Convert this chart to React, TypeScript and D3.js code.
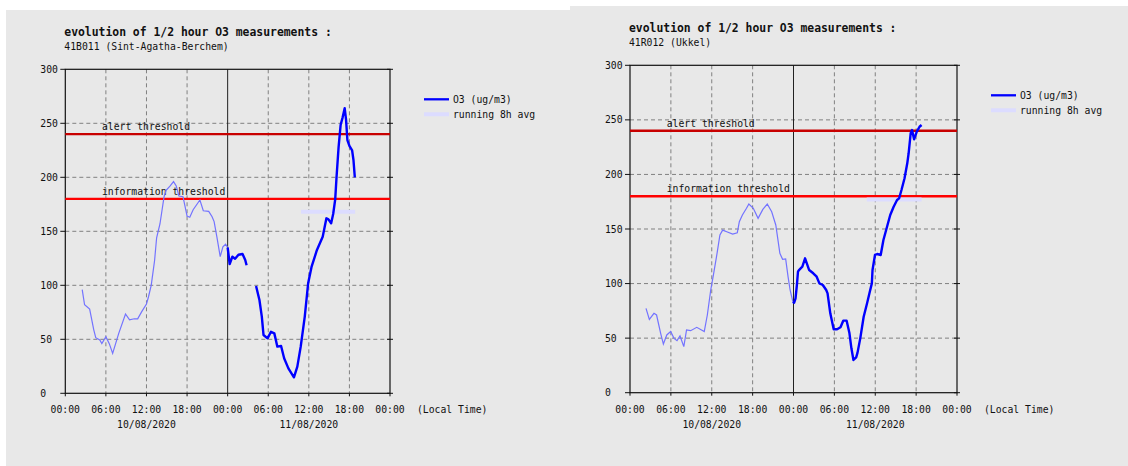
import React from "react";
import * as d3 from "d3";

// ---- data (hours since 10/08/2020 00:00, O3 ug/m3) ----
const berchemSeries: [number, number | null][] = [
  [2.5, 96], [2.85, 82], [3.6, 78], [4.2, 59], [4.5, 51.5], [5.1, 49.4], [5.4, 46], [6.0, 52.4],
  [6.5, 46], [7.0, 37], [7.9, 55.5], [8.9, 73.4], [9.5, 68], [10.2, 69], [10.7, 69], [11.3, 75.6],
  [12.0, 82.7], [12.3, 89.4], [12.7, 100], [13.2, 123], [13.5, 144], [14.0, 157], [14.6, 182],
  [14.9, 188], [15.5, 192], [16.0, 196], [16.4, 192], [16.8, 182.7], [17.4, 182], [18.0, 164],
  [18.4, 163], [18.9, 170], [19.9, 179], [20.4, 169], [21.2, 168.5], [21.7, 163.5], [22.0, 159],
  [22.4, 145], [22.9, 126.5], [23.3, 135.7], [23.7, 138], [24.0, 135], [24.3, 119.7], [24.7, 126.5],
  [25.1, 124.6], [25.6, 128.3], [26.2, 129], [26.6, 123.4], [26.8, 118.5], [27.5, null],
  [28.2, 99.4], [28.7, 86.4], [29.05, 71], [29.3, 54], [29.9, 50.9], [30.4, 57], [30.9, 55.5],
  [31.35, 43.2], [31.9, 43.8], [32.35, 32.4], [32.98, 23.1], [33.8, 14.8], [34.3, 24.7],
  [34.8, 43.2], [35.4, 71], [35.9, 101.9], [36.4, 117], [37.2, 132.7], [38.05, 145], [38.6, 162],
  [38.9, 161], [39.3, 157.4], [39.6, 166], [39.9, 179.6], [40.1, 200.5], [40.4, 228],
  [40.7, 248.4], [41.0, 255.5], [41.3, 264], [41.5, 253.7], [41.7, 234.5], [42.0, 229],
  [42.4, 225], [42.6, 216], [42.8, 200],
];
const berchemAvg: [number, number][] = [[34.85, 168], [42.85, 168]];

const ukkelSeries: [number, number | null][] = [
  [2.35, 77.3], [2.84, 67.2], [3.52, 72.7], [3.9, 71.2], [4.5, 54.4], [4.9, 44.6], [5.4, 52.9],
  [5.97, 56], [6.46, 49.8], [6.9, 47.7], [7.34, 52], [7.9, 42.2], [8.3, 57.5], [8.9, 56.8],
  [9.8, 59.9], [10.9, 56], [11.35, 71.2], [11.85, 94.1], [12.2, 106.3], [12.7, 124.6],
  [13.2, 144.5], [13.6, 149], [14.2, 147.5], [15.07, 145.4], [15.75, 146.6], [16.05, 156.7],
  [16.5, 162.8], [17.1, 169], [17.45, 172.9], [18.1, 169], [18.8, 159.8], [19.5, 168],
  [20.15, 172.9], [20.8, 165.8], [21.4, 153.7], [22.0, 127.7], [22.4, 122.2], [22.85, 122.5],
  [23.2, 106.3], [23.5, 94.1], [23.9, 83.4], [24.1, 82.5], [24.3, 86.5], [24.5, 98.7],
  [24.66, 110.9], [24.8, 112.4], [25.3, 115.5], [25.7, 123.1], [26.3, 112.4], [26.9, 109.4],
  [27.4, 106.3], [27.8, 100.2], [28.3, 98.7], [28.8, 94.1], [29.0, 91], [29.4, 72.7],
  [29.9, 58.1], [30.4, 58.1], [30.9, 59.9], [31.3, 66], [31.8, 66], [32.2, 55], [32.5, 40.7],
  [32.8, 30], [33.2, 32.4], [33.4, 36.7], [33.8, 49.8], [34.3, 69.6], [34.8, 81.9],
  [35.2, 92.5], [35.5, 100.2], [35.6, 112.4], [35.96, 126.2], [36.3, 127.1], [36.8, 126.2],
  [37.2, 139.9], [37.8, 153.7], [38.2, 162.8], [38.7, 170.4], [39.2, 176.6], [39.5, 178.1],
  [39.85, 185.7], [40.3, 196.5], [40.7, 210.2], [40.9, 219.4], [41.2, 237.7], [41.4, 240.7],
  [41.7, 232.2], [42.1, 239.2], [42.5, 243.7], [42.8, 245.3],
];
const ukkelAvg: [number, number][] = [[34.75, 177], [42.8, 177]];

const xTickHours = [0, 6, 12, 18, 24, 30, 36, 42, 48];
const xTickLabels = ["00:00", "06:00", "12:00", "18:00", "00:00", "06:00", "12:00", "18:00", "00:00"];
const dateLabels = ["10/08/2020", "11/08/2020"];
const dateHours = [12, 36];
const yTicks = [0, 50, 100, 150, 200, 250, 300];
const thresholds = [
  { value: 240, label: "alert threshold", color: "#c80000" },
  { value: 180, label: "information threshold", color: "#ff0000" },
];
const legendLabels = ["O3 (ug/m3)", "running 8h avg"];
const chartTitle = "evolution of 1/2 hour O3 measurements :";

const MONO = "'DejaVu Sans Mono', 'Liberation Mono', monospace";
const FS = 9.75;

type ChartProps = {
  x0: number; x1: number; yTop: number; yBottom: number;
  subtitle: string;
  series: [number, number | null][];
  avg: [number, number][];
};

function Chart({ x0, x1, yTop, yBottom, subtitle, series, avg }: ChartProps) {
  const x = d3.scaleLinear().domain([0, 48]).range([x0, x1]);
  const y = d3.scaleLinear().domain([0, 300]).range([yBottom, yTop]);
  const line = d3.line<[number, number | null]>()
    .defined((d) => d[1] !== null)
    .x((d) => x(d[0]))
    .y((d) => y(d[1] as number));
  const lastThin = series.findIndex((d) => d[0] > 24) - 1;
  const thin = series.slice(0, lastThin + 1);
  const thick = series.slice(lastThin);
  const avgLine = d3.line<[number, number]>().x((d) => x(d[0])).y((d) => y(d[1]));
  const lx = x1 + 34;
  const ly = yTop + 30;
  return (
    <g fontFamily={MONO} fontSize={FS} fill="#111">
      <text x={x0 - 1} y={yTop - 33} fontSize={11.4} fontWeight="bold">{chartTitle}</text>
      <text x={x0 - 1} y={yTop - 19.5}>{subtitle}</text>
      {/* grid */}
      {yTicks.filter((v) => v > 0 && v < 300).map((v) => (
        <line key={"gy" + v} x1={x0} x2={x1} y1={y(v)} y2={y(v)} stroke="#808080" strokeDasharray="4,3" />
      ))}
      {xTickHours.filter((h) => h % 24 !== 0).map((h) => (
        <line key={"gx" + h} x1={x(h)} x2={x(h)} y1={yTop} y2={yBottom} stroke="#808080" strokeDasharray="4,3" />
      ))}
      <line x1={x(24)} x2={x(24)} y1={yTop} y2={yBottom} stroke="#222" strokeWidth={1} />
      {/* frame */}
      <rect x={x0} y={yTop} width={x1 - x0} height={yBottom - yTop} fill="none" stroke="#111" strokeWidth={1.2} />
      {/* ticks */}
      {yTicks.map((v) => (
        <g key={"ty" + v}>
          <line x1={x0 - 5} x2={x0} y1={y(v)} y2={y(v)} stroke="#111" />
          <line x1={x1 - 3} x2={x1 + 3} y1={y(v)} y2={y(v)} stroke="#111" />
          <text x={x0 - 25} y={y(v) + 3.5}>{v}</text>
        </g>
      ))}
      {xTickHours.map((h, i) => (
        <g key={"tx" + i}>
          <line x1={x(h)} x2={x(h)} y1={yBottom} y2={yBottom + 3} stroke="#111" />
          <text x={x(h)} y={yBottom + 20} textAnchor="middle">{xTickLabels[i]}</text>
        </g>
      ))}
      {dateLabels.map((d, i) => (
        <text key={d} x={x(dateHours[i])} y={yBottom + 35} textAnchor="middle">{d}</text>
      ))}
      <text x={x1 + 27} y={yBottom + 20}>(Local Time)</text>
      {/* thresholds */}
      {thresholds.map((t) => (
        <g key={t.label}>
          <line x1={x0} x2={x1} y1={y(t.value)} y2={y(t.value)} stroke={t.color} strokeWidth={2.4} />
          <text x={x0 + 36.7} y={y(t.value) - 4}>{t.label}</text>
        </g>
      ))}
      {/* avg */}
      <path d={avgLine(avg) || ""} fill="none" stroke="#dcdcff" strokeWidth={4} />
      {/* series */}
      <path d={line(thin) || ""} fill="none" stroke="#7373ff" strokeWidth={1.2} />
      <path d={line(thick) || ""} fill="none" stroke="#0000ff" strokeWidth={2.4} strokeLinejoin="round" />
      {/* legend */}
      <line x1={lx} x2={lx + 25} y1={ly} y2={ly} stroke="#0000ff" strokeWidth={2.3} />
      <text x={lx + 29} y={ly + 3.5}>{legendLabels[0]}</text>
      <line x1={lx} x2={lx + 25} y1={ly + 15} y2={ly + 15} stroke="#dcdcff" strokeWidth={4} />
      <text x={lx + 29} y={ly + 18.5}>{legendLabels[1]}</text>
    </g>
  );
}

export default function App() {
  return (
    <svg width={1128} height={466} style={{ position: "absolute", left: 0, top: 0, display: "block" }}>
      <rect x={0} y={0} width={1128} height={466} fill="#ffffff" />
      <rect x={6} y={10} width={564} height={456} fill="#e8e8e8" />
      <rect x={570} y={6} width={558} height={460} fill="#e8e8e8" />
      <Chart x0={65.3} x1={390} yTop={69.3} yBottom={393.3} subtitle="41B011 (Sint-Agatha-Berchem)" series={berchemSeries} avg={berchemAvg} />
      <Chart x0={630} x1={957} yTop={65.3} yBottom={392.7} subtitle="41R012 (Ukkel)" series={ukkelSeries} avg={ukkelAvg} />
    </svg>
  );
}
